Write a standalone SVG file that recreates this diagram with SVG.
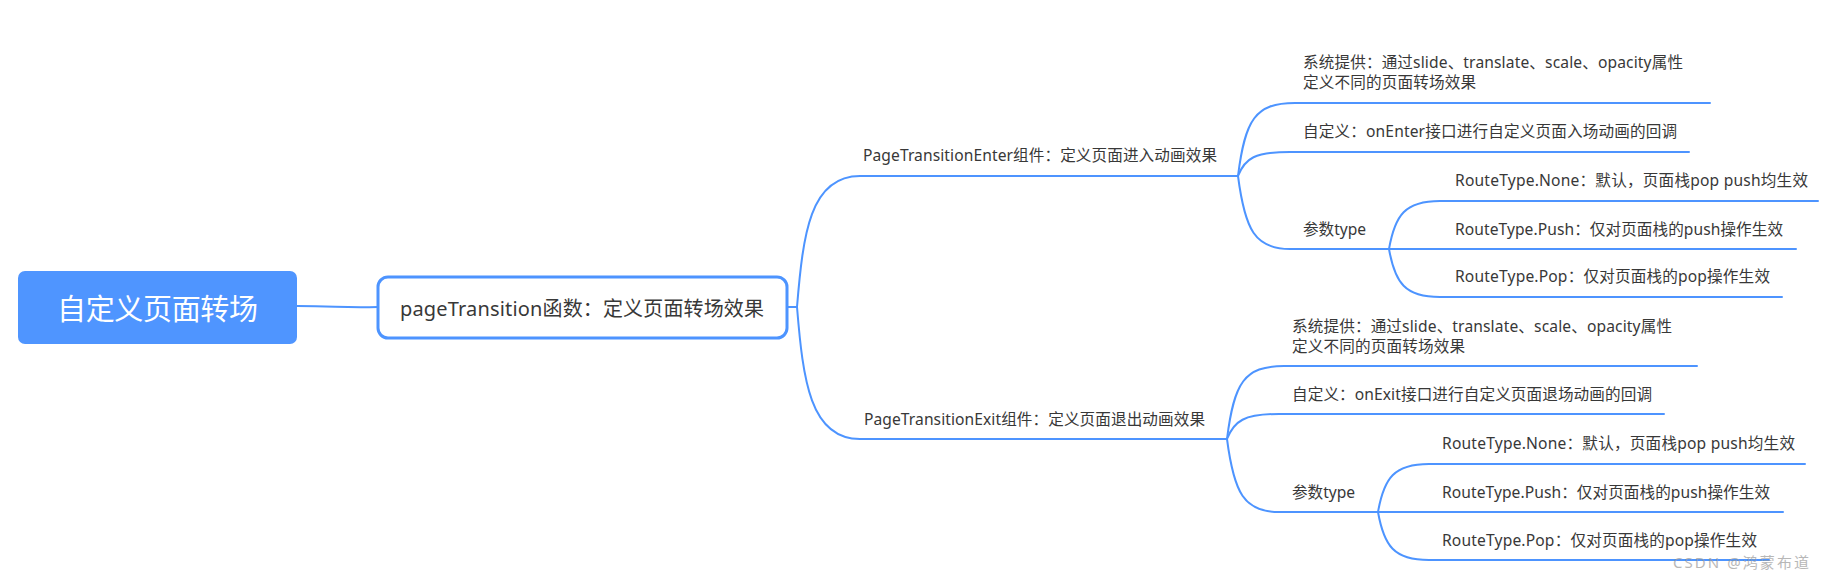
<svg xmlns="http://www.w3.org/2000/svg" width="1824" height="576" viewBox="0 0 1824 576">
<style>
.ln{fill:none;stroke:#4D94FF;stroke-width:2;stroke-linecap:round}
.t{font-family:"Noto Sans","Noto Sans CJK SC",sans-serif;fill:#383838}
.s{font-size:15.6px}
.root{font-family:"Noto Sans","Noto Sans CJK SC",sans-serif;font-size:29px;fill:#ffffff}
.wm{font-family:"Noto Sans","Noto Sans CJK SC",sans-serif;font-size:15px;fill:#9a9a9a;opacity:0.7}
</style>
<rect width="1824" height="576" fill="#ffffff"/>
<g id="connectors">
<path class="ln" d="M297 306 C338 306 340 308 378 307"/>
<path class="ln" d="M787 307 L797 307 C803 234 810 176 860 176 L1238 176"/>
<path class="ln" d="M787 307 L797 307 C803 380 810 439 860 439 L1227 439"/>
<path class="ln" d="M1238 176 C1245 120 1255 103 1295 103 L1710 103"/>
<path class="ln" d="M1238 176 C1245 158 1255 152 1290 152 L1689 152"/>
<path class="ln" d="M1238 176 C1245 230 1255 249 1290 249 L1389 249"/>
<path class="ln" d="M1389 249 C1395 215 1405 201 1440 201 L1818 201"/>
<path class="ln" d="M1389 249 L1796 249"/>
<path class="ln" d="M1389 249 C1395 283 1405 297 1440 297 L1782 297"/>
<path class="ln" d="M1227 439 C1234 383 1244 366 1284 366 L1697 366"/>
<path class="ln" d="M1227 439 C1234 421 1244 414 1279 414 L1664 414"/>
<path class="ln" d="M1227 439 C1234 493 1244 512 1279 512 L1378 512"/>
<path class="ln" d="M1378 512 C1384 478 1394 464 1429 464 L1805 464"/>
<path class="ln" d="M1378 512 L1783 512"/>
<path class="ln" d="M1378 512 C1384 546 1394 560 1429 560 L1769 560"/>
</g>
<g id="root">
<rect x="18" y="271" width="279" height="73" rx="7" fill="#4F95FF"/>
<text class="root" x="57" y="320" textLength="201">自定义页面转场</text>
</g>
<g id="pageTransition">
<rect x="378" y="277" width="409" height="61" rx="10" fill="#ffffff" stroke="#4D94FF" stroke-width="3"/>
<text class="t" x="400" y="316" font-size="20" textLength="364">pageTransition函数：定义页面转场效果</text>
</g>
<g id="enter">
<text class="t s" x="863" y="161" textLength="354">PageTransitionEnter组件：定义页面进入动画效果</text>
</g>
<g id="enter-system">
<text class="t s" x="1303" y="68" textLength="380">系统提供：通过slide、translate、scale、opacity属性</text>
<text class="t s" x="1303" y="88" textLength="173">定义不同的页面转场效果</text>
</g>
<g id="enter-custom">
<text class="t s" x="1303" y="137" textLength="374">自定义：onEnter接口进行自定义页面入场动画的回调</text>
</g>
<g id="enter-type">
<text class="t s" x="1303" y="235" textLength="63">参数type</text>
</g>
<g id="enter-none">
<text class="t s" x="1455" y="186" textLength="353">RouteType.None：默认，页面栈pop push均生效</text>
</g>
<g id="enter-push">
<text class="t s" x="1455" y="235" textLength="328">RouteType.Push：仅对页面栈的push操作生效</text>
</g>
<g id="enter-pop">
<text class="t s" x="1455" y="282" textLength="315">RouteType.Pop：仅对页面栈的pop操作生效</text>
</g>
<g id="exit">
<text class="t s" x="864" y="425" textLength="341">PageTransitionExit组件：定义页面退出动画效果</text>
</g>
<g id="exit-system">
<text class="t s" x="1292" y="332" textLength="380">系统提供：通过slide、translate、scale、opacity属性</text>
<text class="t s" x="1292" y="352" textLength="173">定义不同的页面转场效果</text>
</g>
<g id="exit-custom">
<text class="t s" x="1292" y="400" textLength="360">自定义：onExit接口进行自定义页面退场动画的回调</text>
</g>
<g id="exit-type">
<text class="t s" x="1292" y="498" textLength="63">参数type</text>
</g>
<g id="exit-none">
<text class="t s" x="1442" y="449" textLength="353">RouteType.None：默认，页面栈pop push均生效</text>
</g>
<g id="exit-push">
<text class="t s" x="1442" y="498" textLength="328">RouteType.Push：仅对页面栈的push操作生效</text>
</g>
<g id="exit-pop">
<text class="t s" x="1442" y="546" textLength="315">RouteType.Pop：仅对页面栈的pop操作生效</text>
</g>
<text class="wm" x="1673" y="568" textLength="136">CSDN @鸿蒙布道</text>
</svg>
